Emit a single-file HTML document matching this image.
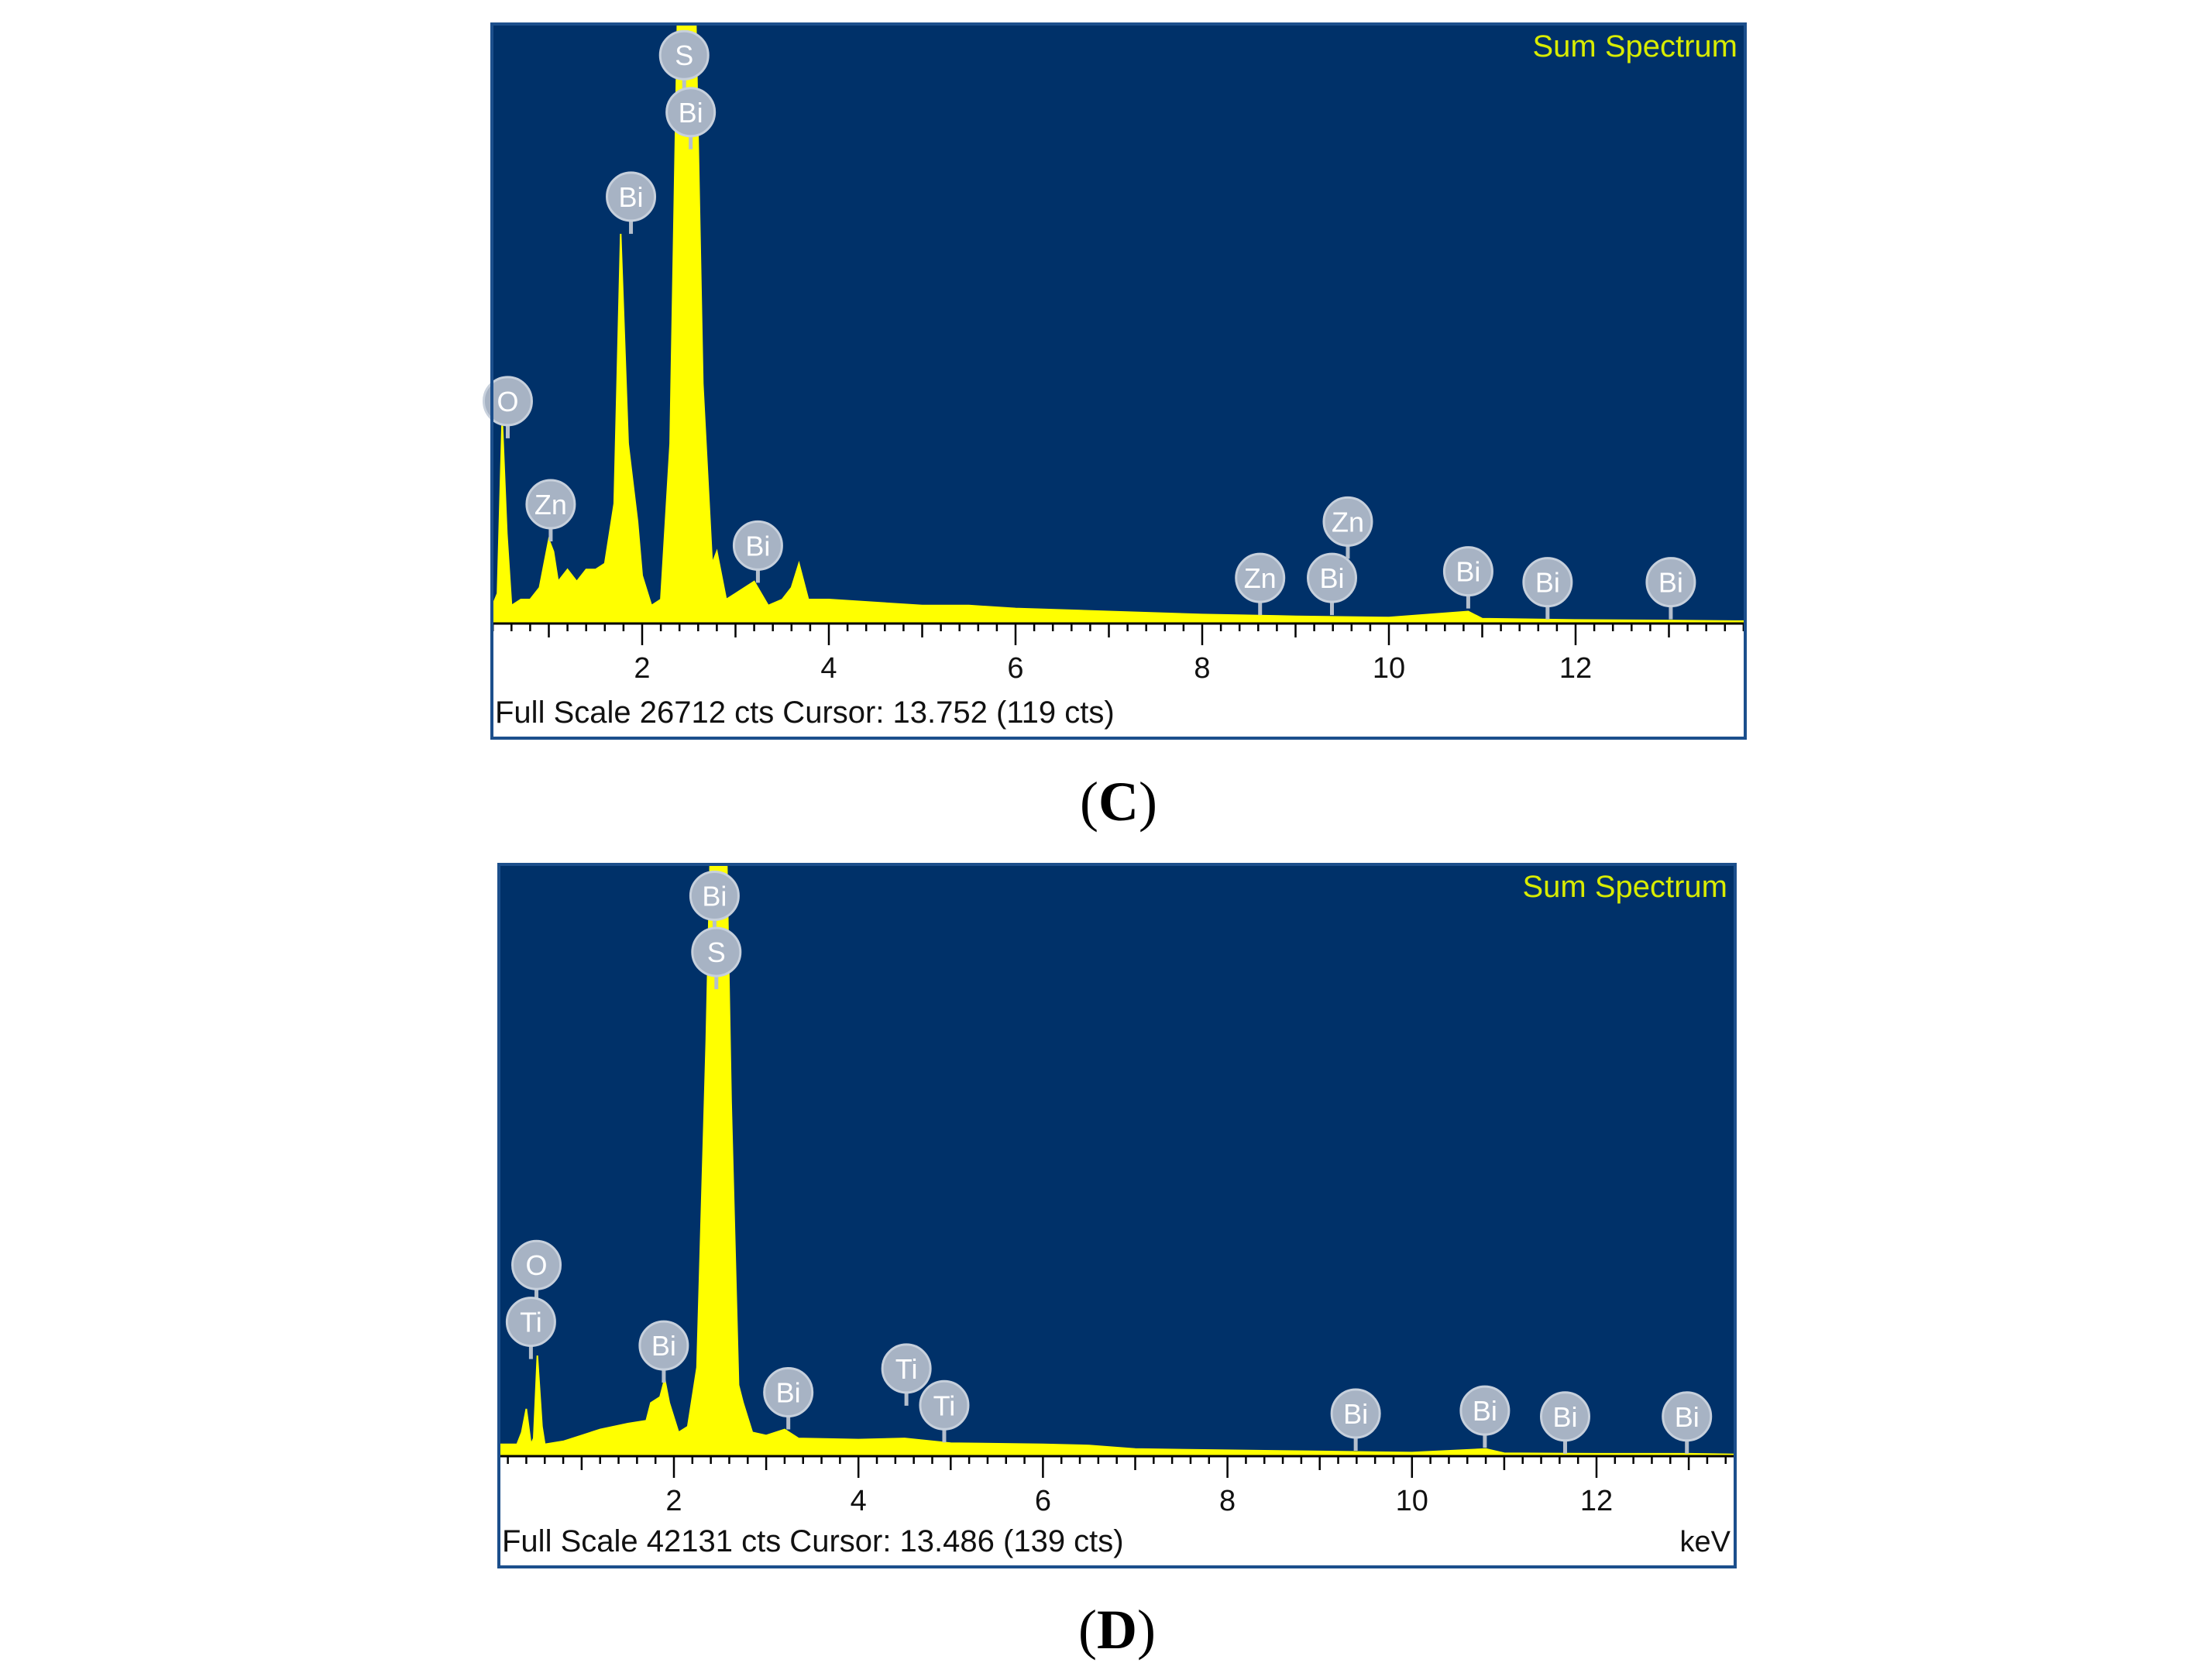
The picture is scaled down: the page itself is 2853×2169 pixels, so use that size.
<!DOCTYPE html>
<html><head><meta charset="utf-8"><style>
html,body{margin:0;padding:0;background:#fff;}
svg{display:block;}
</style></head><body>
<svg id="fig" width="2853" height="2169" viewBox="0 0 2853 2169" xmlns="http://www.w3.org/2000/svg">
<rect x="0" y="0" width="2853" height="2169" fill="#fff"/>
</svg>
<script>
// Panel C data
const cEnergy = [0.37,0.45,0.5,0.55,0.6,0.7,0.8,0.9,1.0,1.05,1.1,1.2,1.3,1.4,1.5,1.6,1.7,1.77,1.85,1.95,2.0,2.1,2.2,2.3,2.4,2.55,2.65,2.75,2.8,2.9,3.0,3.2,3.35,3.5,3.6,3.68,3.78,4.0,4.5,5.0,5.5,6.0,7,8,9,10,10.85,11,12,13,13.7];
const cCounts = [0.02,0.05,0.34,0.15,0.03,0.04,0.04,0.06,0.14,0.12,0.07,0.09,0.07,0.09,0.09,0.10,0.2,0.65,0.3,0.17,0.08,0.03,0.04,0.3,1.2,1.2,0.4,0.1,0.12,0.04,0.05,0.07,0.03,0.04,0.06,0.10,0.04,0.04,0.035,0.03,0.03,0.025,0.02,0.015,0.012,0.01,0.02,0.008,0.006,0.005,0.004];
const cLabelEl = ["O","Zn","Bi","S","Bi","Bi","Zn","Bi","Zn","Bi","Bi","Bi"];
const cLabelE = [0.56,1.02,1.88,2.45,2.52,3.24,8.62,9.39,9.56,10.85,11.70,13.02];
const cLabelY = [0.371,0.199,0.712,0.948,0.853,0.130,0.076,0.076,0.170,0.087,0.069,0.069];
const cTicks = ["2","4","6","8","10","12"];
// Panel D data
const dEnergy = [0.3,0.35,0.4,0.45,0.48,0.52,0.57,0.6,0.8,1.0,1.2,1.5,1.7,1.75,1.85,1.9,1.95,2.05,2.15,2.25,2.35,2.42,2.55,2.62,2.7,2.75,2.85,3.0,3.2,3.35,4.0,4.5,5.0,6.0,6.5,7,8,9,10,10.8,11,12,13,13.5];
const dCounts = [0.02,0.04,0.08,0.02,0.03,0.17,0.05,0.02,0.025,0.035,0.045,0.055,0.06,0.09,0.1,0.13,0.09,0.04,0.05,0.15,0.7,1.2,1.2,0.6,0.12,0.09,0.04,0.035,0.045,0.03,0.028,0.03,0.022,0.02,0.018,0.012,0.01,0.008,0.006,0.012,0.005,0.004,0.004,0.003];
const dLabelEl = ["O","Ti","Bi","Bi","S","Bi","Ti","Ti","Bi","Bi","Bi","Bi"];
const dLabelE = [0.51,0.45,1.89,2.44,2.46,3.24,4.52,4.93,9.39,10.79,11.66,12.98];
const dLabelY = [0.323,0.227,0.187,0.947,0.852,0.108,0.148,0.086,0.072,0.077,0.067,0.067];
const dTicks = ["2","4","6","8","10","12"];

const NS="http://www.w3.org/2000/svg";
const svg=document.getElementById('fig');
function mk(tag,attrs,parent){const e=document.createElementNS(NS,tag);for(const k in attrs)e.setAttribute(k,attrs[k]);(parent||svg).appendChild(e);return e;}

function panel(p){
  const g=mk('g',{});
  
  
  const xs=e=>p.x2+(e-2)*p.kev;
  const ys=f=>p.base-f*(p.base-p.T);
  const bg=mk('rect',{x:p.L,y:p.T,width:p.R-p.L,height:p.base-p.T,fill:'#003169'},g);
  
  
  const cid='clip'+p.id;
  const cp=mk('clipPath',{id:cid},g);
  mk('rect',{x:p.L,y:p.T,width:p.R-p.L,height:p.base-p.T+2},cp);
  let d='';
  for(let i=0;i<p.energy.length;i++){d+=' L'+xs(p.energy[i]).toFixed(1)+','+ys(p.counts[i]).toFixed(1);}
  d='M'+p.L+','+p.base+' L'+p.L+','+ys(p.counts[0]).toFixed(1)+d+' L'+p.R+','+ys(p.counts[p.counts.length-1]).toFixed(1)+' L'+p.R+','+p.base+' Z';
  const sp=mk('path',{d:d,fill:'#ffff00',stroke:'#ffff00','stroke-width':2,'clip-path':'url(#'+cid+')'},g);
  
  
  const ax=mk('line',{x1:p.L,y1:p.base,x2:p.R,y2:p.base,stroke:'#000','stroke-width':3},g);
  
  
  for(let k=0;;k++){const e=Math.round((0.2*k)*10)/10; const x=xs(e); if(x>p.R)break; if(x<p.L)continue;
    const isInt=Math.abs(e-Math.round(e))<1e-6; const len=isInt?(Math.round(e)%2===0?28:18):10;
    const t=mk('line',{x1:x,y1:p.base,x2:x,y2:p.base+len,stroke:'#000','stroke-width':2.5},g);
    
    }
  p.ticks.forEach(lbl=>{const t=mk('text',{x:xs(+lbl),y:p.base+70,'font-family':'Liberation Sans, sans-serif','font-size':38,'text-anchor':'middle',fill:'#111'},g);t.textContent=lbl;
    
    });
  for(let i=0;i<p.lEl.length;i++){const cx=xs(p.lE[i]),cy=ys(p.lY[i]);
    const lg=mk('g',{},g);
    
    
    mk('line',{x1:cx,y1:cy,x2:cx,y2:cy+48,stroke:'#b5bfcc','stroke-width':5},lg);
    mk('circle',{cx:cx,cy:cy,r:31,fill:'#a7b3c4',stroke:'#c7d0dc','stroke-width':3},lg);
    const t=mk('text',{x:cx,y:cy+13,'font-family':'Liberation Sans, sans-serif','font-size':36,'text-anchor':'middle',fill:'#fff'},lg);t.textContent=p.lEl[i];}
  const ss=mk('text',{x:p.R-10,y:p.T+42,'font-family':'Liberation Sans, sans-serif','font-size':40,'text-anchor':'end',fill:'#d8ec00'},g);ss.textContent='Sum Spectrum';
  
  
  const ft=mk('text',{x:p.L+4,y:p.bottom-20,'font-family':'Liberation Sans, sans-serif','font-size':40,fill:'#111'},g);ft.textContent=p.footer;
  
  
  if(p.kevText){const kv=mk('text',{x:p.R-6,y:p.bottom-20,'font-family':'Liberation Sans, sans-serif','font-size':38,'text-anchor':'end',fill:'#111'},g);kv.textContent='keV';
    
    }
  const fr=mk('rect',{x:p.L,y:p.T,width:p.R-p.L,height:p.bottom-p.T,fill:'none',stroke:'#1c4f8c','stroke-width':4},g);
  
  
  const cap=mk('text',{x:(p.L+p.R)/2,y:p.capY,'font-family':'Liberation Serif, serif','font-size':72,'font-weight':'bold','text-anchor':'middle',fill:'#000'},svg);
  cap.innerHTML='<tspan font-weight="normal">(</tspan>'+p.cap+'<tspan font-weight="normal">)</tspan>';
  
  
}
panel({id:'c',name:'panel-c',L:635,R:2253,T:31,base:805,bottom:953,x2:829,kev:120.5,energy:cEnergy,counts:cCounts,lEl:cLabelEl,lE:cLabelE,lY:cLabelY,ticks:cTicks,footer:'Full Scale 26712 cts Cursor: 13.752  (119 cts)',kevText:false,cap:'C',capY:1059});
panel({id:'d',name:'panel-d',L:644,R:2240,T:1116,base:1880,bottom:2023,x2:870,kev:119.1,energy:dEnergy,counts:dCounts,lEl:dLabelEl,lE:dLabelE,lY:dLabelY,ticks:dTicks,footer:'Full Scale 42131 cts Cursor: 13.486  (139 cts)',kevText:true,cap:'D',capY:2128});
</script>
</body></html>
